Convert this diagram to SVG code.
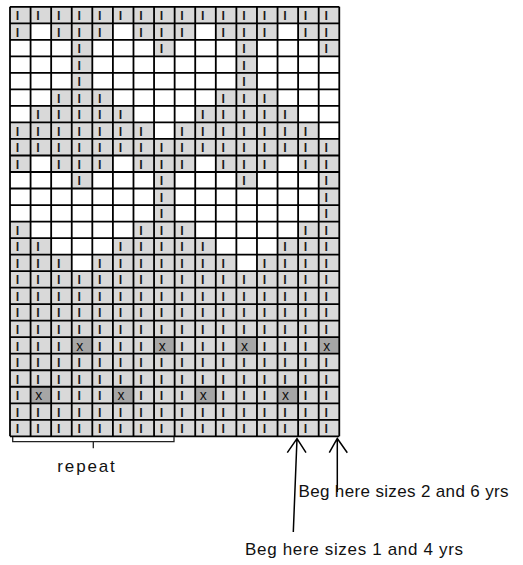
<svg xmlns="http://www.w3.org/2000/svg" width="523" height="565" viewBox="0 0 523 565">
<style>
.w{fill:#ffffff}
.d{fill:#a6a6a6}
.l{font-family:"Liberation Sans",Arial,sans-serif;font-size:12.5px;font-weight:bold;fill:#1a1a1a;text-anchor:middle}
.xt{font-size:14px;font-weight:normal;fill:#111}
.lbl{font-family:"Liberation Sans",Arial,sans-serif;font-size:17px;fill:#111}
.ln{fill:none;stroke:#000;stroke-width:1.5}
</style>
<rect width="523" height="565" fill="#ffffff"/>
<g id="chart">
<rect x="10" y="6.8" width="329.28" height="429.52" fill="#d9d9d9"/>
<g id="white-cells">
<rect class="w" x="30.58" y="23.32" width="20.58" height="16.52"/><rect class="w" x="112.9" y="23.32" width="20.58" height="16.52"/><rect class="w" x="195.22" y="23.32" width="20.58" height="16.52"/><rect class="w" x="277.54" y="23.32" width="20.58" height="16.52"/>
<rect class="w" x="10" y="39.84" width="61.74" height="16.52"/><rect class="w" x="92.32" y="39.84" width="61.74" height="16.52"/><rect class="w" x="174.64" y="39.84" width="61.74" height="16.52"/><rect class="w" x="256.96" y="39.84" width="61.74" height="16.52"/>
<rect class="w" x="10" y="56.36" width="61.74" height="33.04"/><rect class="w" x="92.32" y="56.36" width="144.06" height="33.04"/><rect class="w" x="256.96" y="56.36" width="82.32" height="33.04"/>
<rect class="w" x="10" y="89.4" width="41.16" height="16.52"/><rect class="w" x="112.9" y="89.4" width="102.9" height="16.52"/><rect class="w" x="277.54" y="89.4" width="61.74" height="16.52"/>
<rect class="w" x="10" y="105.92" width="20.58" height="16.52"/><rect class="w" x="133.48" y="105.92" width="61.74" height="16.52"/><rect class="w" x="298.12" y="105.92" width="41.16" height="16.52"/>
<rect class="w" x="154.06" y="122.44" width="20.58" height="16.52"/><rect class="w" x="318.7" y="122.44" width="20.58" height="16.52"/>
<rect class="w" x="30.58" y="155.48" width="20.58" height="16.52"/><rect class="w" x="112.9" y="155.48" width="20.58" height="16.52"/><rect class="w" x="195.22" y="155.48" width="20.58" height="16.52"/><rect class="w" x="277.54" y="155.48" width="20.58" height="16.52"/>
<rect class="w" x="10" y="172" width="61.74" height="16.52"/><rect class="w" x="92.32" y="172" width="61.74" height="16.52"/><rect class="w" x="174.64" y="172" width="61.74" height="16.52"/><rect class="w" x="256.96" y="172" width="61.74" height="16.52"/>
<rect class="w" x="10" y="188.52" width="144.06" height="33.04"/><rect class="w" x="174.64" y="188.52" width="144.06" height="33.04"/>
<rect class="w" x="30.58" y="221.56" width="102.9" height="16.52"/><rect class="w" x="195.22" y="221.56" width="102.9" height="16.52"/>
<rect class="w" x="51.16" y="238.08" width="61.74" height="16.52"/><rect class="w" x="215.8" y="238.08" width="61.74" height="16.52"/>
<rect class="w" x="71.74" y="254.6" width="20.58" height="16.52"/><rect class="w" x="236.38" y="254.6" width="20.58" height="16.52"/>
</g>
<g id="dark-cells">
<rect class="d" x="71.74" y="337.2" width="20.58" height="16.52"/><rect class="d" x="154.06" y="337.2" width="20.58" height="16.52"/><rect class="d" x="236.38" y="337.2" width="20.58" height="16.52"/><rect class="d" x="318.7" y="337.2" width="20.58" height="16.52"/>
<rect class="d" x="30.58" y="386.76" width="20.58" height="16.52"/><rect class="d" x="112.9" y="386.76" width="20.58" height="16.52"/><rect class="d" x="195.22" y="386.76" width="20.58" height="16.52"/><rect class="d" x="277.54" y="386.76" width="20.58" height="16.52"/>
</g>
<path id="grid-lines" fill="none" stroke="#000" stroke-width="1.8" d="M10 6.8V436.32M30.58 6.8V436.32M51.16 6.8V436.32M71.74 6.8V436.32M92.32 6.8V436.32M112.9 6.8V436.32M133.48 6.8V436.32M154.06 6.8V436.32M174.64 6.8V436.32M195.22 6.8V436.32M215.8 6.8V436.32M236.38 6.8V436.32M256.96 6.8V436.32M277.54 6.8V436.32M298.12 6.8V436.32M318.7 6.8V436.32M339.28 6.8V436.32M10 6.8H339.28M10 23.32H339.28M10 39.84H339.28M10 56.36H339.28M10 72.88H339.28M10 89.4H339.28M10 105.92H339.28M10 122.44H339.28M10 138.96H339.28M10 155.48H339.28M10 172H339.28M10 188.52H339.28M10 205.04H339.28M10 221.56H339.28M10 238.08H339.28M10 254.6H339.28M10 271.12H339.28M10 287.64H339.28M10 304.16H339.28M10 320.68H339.28M10 337.2H339.28M10 353.72H339.28M10 370.24H339.28M10 386.76H339.28M10 403.28H339.28M10 419.8H339.28M10 436.32H339.28"/>
<g id="stitch-symbols">
<text class="l" y="20.1" x="17.5 38.1 58.7 79.2 99.8 120.4 141 161.6 182.1 202.7 223.3 243.9 264.5 285 305.6 326.2">llllllllllllllll</text>
<text class="l" y="36.62" x="17.5 58.7 79.2 99.8 141 161.6 182.1 223.3 243.9 264.5 305.6 326.2">llllllllllll</text>
<text class="l" y="53.14" x="79.2 161.6 243.9 326.2">llll</text>
<text class="l" y="69.66" x="79.2 243.9">ll</text>
<text class="l" y="86.18" x="79.2 243.9">ll</text>
<text class="l" y="102.7" x="58.7 79.2 99.8 223.3 243.9 264.5">llllll</text>
<text class="l" y="119.22" x="38.1 58.7 79.2 99.8 120.4 202.7 223.3 243.9 264.5 285">llllllllll</text>
<text class="l" y="135.74" x="17.5 38.1 58.7 79.2 99.8 120.4 141 182.1 202.7 223.3 243.9 264.5 285 305.6">llllllllllllll</text>
<text class="l" y="152.26" x="17.5 38.1 58.7 79.2 99.8 120.4 141 161.6 182.1 202.7 223.3 243.9 264.5 285 305.6 326.2">llllllllllllllll</text>
<text class="l" y="168.78" x="17.5 58.7 79.2 99.8 141 161.6 182.1 223.3 243.9 264.5 305.6 326.2">llllllllllll</text>
<text class="l" y="185.3" x="79.2 161.6 243.9 326.2">llll</text>
<text class="l" y="201.82" x="161.6 326.2">ll</text>
<text class="l" y="218.34" x="161.6 326.2">ll</text>
<text class="l" y="234.86" x="17.5 141 161.6 182.1 305.6 326.2">llllll</text>
<text class="l" y="251.38" x="17.5 38.1 120.4 141 161.6 182.1 202.7 285 305.6 326.2">llllllllll</text>
<text class="l" y="267.9" x="17.5 38.1 58.7 99.8 120.4 141 161.6 182.1 202.7 223.3 264.5 285 305.6 326.2">llllllllllllll</text>
<text class="l" y="284.42" x="17.5 38.1 58.7 79.2 99.8 120.4 141 161.6 182.1 202.7 223.3 243.9 264.5 285 305.6 326.2">llllllllllllllll</text>
<text class="l" y="300.94" x="17.5 38.1 58.7 79.2 99.8 120.4 141 161.6 182.1 202.7 223.3 243.9 264.5 285 305.6 326.2">llllllllllllllll</text>
<text class="l" y="317.46" x="17.5 38.1 58.7 79.2 99.8 120.4 141 161.6 182.1 202.7 223.3 243.9 264.5 285 305.6 326.2">llllllllllllllll</text>
<text class="l" y="333.98" x="17.5 38.1 58.7 79.2 99.8 120.4 141 161.6 182.1 202.7 223.3 243.9 264.5 285 305.6 326.2">llllllllllllllll</text>
<text class="l" y="350.5" x="17.5 38.1 58.7 79.8 99.8 120.4 141 162.2 182.1 202.7 223.3 244.5 264.5 285 305.6 326.8">lll<tspan class="xt">x</tspan>lll<tspan class="xt">x</tspan>lll<tspan class="xt">x</tspan>lll<tspan class="xt">x</tspan></text>
<text class="l" y="367.02" x="17.5 38.1 58.7 79.2 99.8 120.4 141 161.6 182.1 202.7 223.3 243.9 264.5 285 305.6 326.2">llllllllllllllll</text>
<text class="l" y="383.54" x="17.5 38.1 58.7 79.2 99.8 120.4 141 161.6 182.1 202.7 223.3 243.9 264.5 285 305.6 326.2">llllllllllllllll</text>
<text class="l" y="400.06" x="17.5 38.7 58.7 79.2 99.8 121 141 161.6 182.1 203.3 223.3 243.9 264.5 285.6 305.6 326.2">l<tspan class="xt">x</tspan>lll<tspan class="xt">x</tspan>lll<tspan class="xt">x</tspan>lll<tspan class="xt">x</tspan>ll</text>
<text class="l" y="416.58" x="17.5 38.1 58.7 79.2 99.8 120.4 141 161.6 182.1 202.7 223.3 243.9 264.5 285 305.6 326.2">llllllllllllllll</text>
<text class="l" y="433.1" x="17.5 38.1 58.7 79.2 99.8 120.4 141 161.6 182.1 202.7 223.3 243.9 264.5 285 305.6 326.2">llllllllllllllll</text>
</g>
</g>
<g id="connectors">
<path fill="none" stroke="#222" stroke-width="1.3" d="M12.7 437V441.7H174V437M93.3 441.7V448.3"/>
<path class="ln" d="M297 438.5L293.3 532M287.3 452.7L297 438.5L306 452.7"/>
<path class="ln" d="M337.3 438.5V492M329.3 452.7L337.3 438.5L347.3 452.7"/>
</g>
<g id="labels">
<text class="lbl" x="57.3" y="471.7" textLength="57.5" lengthAdjust="spacing">repeat</text>
<text class="lbl" x="298.5" y="496.7" textLength="210" lengthAdjust="spacing">Beg here sizes 2 and 6 yrs</text>
<text class="lbl" x="245" y="555" textLength="218" lengthAdjust="spacing">Beg here sizes 1 and 4 yrs</text>
</g>
</svg>
